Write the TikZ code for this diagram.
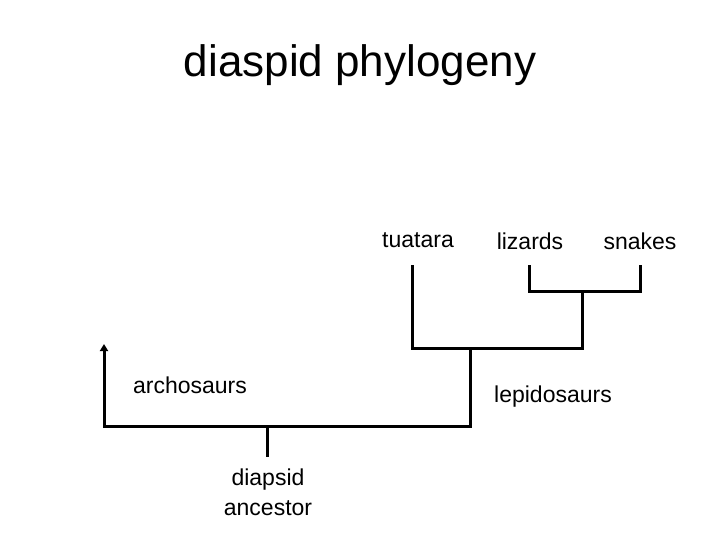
\documentclass[tikz,border=0pt]{standalone}
\usepackage{fontspec}
\setmainfont{Liberation Sans}
\usetikzlibrary{arrows.meta}

\begin{document}
\begin{tikzpicture}[x=1pt, y=-1pt,
  taxon/.style={font=\fontsize{23}{30}\selectfont, inner sep=0pt, align=center},
  branch/.style={line width=3pt, black}]
\useasboundingbox (0,0) rectangle (720,540);
\node[font=\fontsize{44}{50}\selectfont] (title) at (360,65) {diaspid phylogeny};

% taxa
\node[taxon] (tuatara) at (418,240) {tuatara};
\node[taxon] (lizards) at (530,241) {lizards};
\node[taxon] (snakes) at (640,241) {snakes};
\node[taxon] (archo) at (190,385) {archosaurs};
\node[taxon] (lepido) at (553,397) {lepidosaurs};
\node[taxon] (ancestor) at (268,492) {diapsid\\ancestor};

% tree points
\coordinate (anc) at (267,457);
\coordinate (root) at (267,426);
\coordinate (archtip) at (104,344);
\coordinate (lepibase) at (470,426);
\coordinate (lepi) at (470,348);
\coordinate (tuaL) at (412,348);
\coordinate (squR) at (582,348);
\coordinate (tuatop) at (412,265);
\coordinate (squam) at (582,291);
\coordinate (lizbase) at (529,291);
\coordinate (snkbase) at (640,291);
\coordinate (liztop) at (529,265);
\coordinate (snktop) at (640,265);

\draw[branch, {Triangle[width=8pt,length=7pt]}-] (archtip) |- (lepibase) -- (lepi);
\draw[branch] (root) -- (anc);
\draw[branch] (tuatop) -- (tuaL) -- (squR) -- (squam);
\draw[branch] (liztop) -- (lizbase) -- (snkbase) -- (snktop);
\end{tikzpicture}
\end{document}
